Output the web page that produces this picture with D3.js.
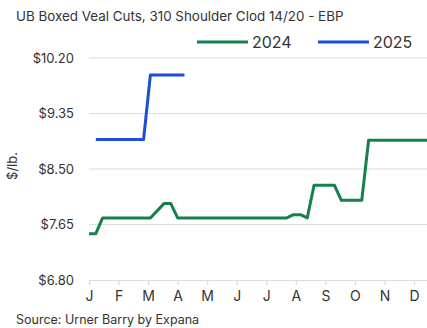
<!DOCTYPE html>
<html>
<head>
<meta charset="utf-8">
<script src="https://cdn.jsdelivr.net/npm/d3@7"></script>
<style>
  html, body { margin: 0; padding: 0; background: #fff; }
  svg { display: block; font-family: Inter, "Open Sans", sans-serif; }
</style>
</head>
<body>
<svg id="chart" width="427" height="328"></svg>
<script>
// Week-of-year positions (0 = first week of January) and $/lb. prices
const weeks2024 = [0, 1, 2, 9, 11, 12, 13, 29, 30, 31, 32, 33, 36, 37, 40, 41, 52];
const prices2024 = [7.51, 7.51, 7.75, 7.75, 7.97, 7.97, 7.75, 7.75, 7.80, 7.80, 7.75, 8.25, 8.25, 8.02, 8.02, 8.94, 8.94];
const weeks2025 = [1, 8, 9, 14];
const prices2025 = [8.95, 8.95, 9.94, 9.94];

const monthLabels = ["J", "F", "M", "A", "M", "J", "J", "A", "S", "O", "N", "D"];
const yTicks = [6.80, 7.65, 8.50, 9.35, 10.20];

const seriesNames = ["2024", "2025"];
const seriesColors = ["#17804c", "#1a4fd8"];

const svg = d3.select("#chart");
const W = 427, H = 328;
const margin = { left: 89, top: 58, bottom: 48 };

// 12 months across; the year's last month runs past the right edge
const monthWidth = 29.55;
const xMonth = d3.scaleLinear().domain([0, 12]).range([margin.left, margin.left + 12 * monthWidth]);
const xWeek = d3.scaleLinear().domain([0, 52]).range(xMonth.range());
const y = d3.scaleLinear().domain([6.80, 10.20]).range([280, 58]);

const textColor = "#333";

// Title
svg.append("text")
  .attr("x", 16).attr("y", 21)
  .attr("font-size", 13.4).attr("fill", textColor)
  .text("UB Boxed Veal Cuts, 310 Shoulder Clod 14/20 - EBP");

// Gridlines
svg.append("g")
  .selectAll("line")
  .data(yTicks.slice(1))
  .join("line")
  .attr("x1", margin.left).attr("x2", W)
  .attr("y1", d => y(d)).attr("y2", d => y(d))
  .attr("stroke", "#dcdcdc").attr("stroke-width", 1.2);

// Y axis labels
const yAxis = d3.axisLeft(y).tickValues(yTicks).tickSize(0).tickPadding(15)
  .tickFormat(d => "$" + d3.format(".2f")(d));
const gy = svg.append("g").attr("transform", `translate(${margin.left},0)`).call(yAxis);
gy.select(".domain").remove();
gy.selectAll("text").attr("font-size", 13).attr("fill", textColor).attr("font-family", "Inter, sans-serif");

// Y axis title
svg.append("text")
  .attr("transform", "translate(17,166) rotate(-90)")
  .attr("text-anchor", "middle")
  .attr("font-size", 13).attr("fill", textColor)
  .text("$/lb.");

// X axis with month ticks
const xAxis = d3.axisBottom(xMonth).tickValues(d3.range(12)).tickSize(5).tickPadding(6)
  .tickFormat(i => monthLabels[i]);
const gx = svg.append("g").attr("transform", `translate(0,${y(6.80)})`).call(xAxis);
gx.select(".domain").attr("stroke", "#dcdcdc").attr("stroke-width", 1.2)
  .attr("d", `M${margin.left},0.5H${W}`);
gx.selectAll(".tick line").attr("stroke", "#dcdcdc").attr("stroke-width", 1.2);
gx.selectAll("text").attr("font-size", 14).attr("fill", textColor).attr("font-family", "Inter, sans-serif");

// Price lines
const line = d3.line().x(d => xWeek(d[0])).y(d => y(d[1]));
const series = [
  d3.zip(weeks2024, prices2024),
  d3.zip(weeks2025, prices2025)
];
svg.append("defs").append("clipPath").attr("id", "plot-clip")
  .append("rect").attr("x", margin.left - 2).attr("y", 0).attr("width", W).attr("height", H);
svg.append("g").attr("clip-path", "url(#plot-clip)")
  .selectAll("path")
  .data(series)
  .join("path")
  .attr("d", line)
  .attr("fill", "none")
  .attr("stroke", (d, i) => seriesColors[i])
  .attr("stroke-width", 3)
  .attr("stroke-linejoin", "round");

// Legend
const legend = svg.append("g");
const legendX = [197, 318];
seriesNames.forEach((name, i) => {
  legend.append("line")
    .attr("x1", legendX[i]).attr("x2", legendX[i] + 51)
    .attr("y1", 42).attr("y2", 42)
    .attr("stroke", seriesColors[i]).attr("stroke-width", 3);
  legend.append("text")
    .attr("x", legendX[i] + 55).attr("y", 48)
    .attr("font-size", 16).attr("fill", textColor)
    .text(name);
});

// Source note
svg.append("text")
  .attr("x", 16).attr("y", 324)
  .attr("font-size", 12.5).attr("fill", textColor)
  .text("Source: Urner Barry by Expana");
</script>
</body>
</html>
